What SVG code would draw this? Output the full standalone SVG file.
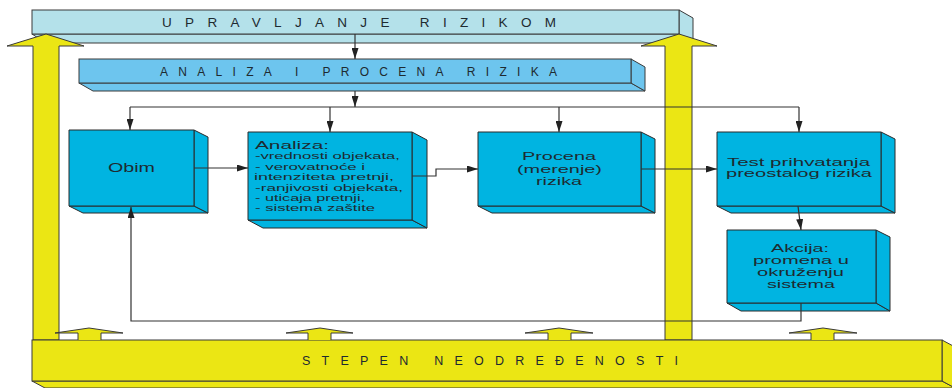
<svg xmlns="http://www.w3.org/2000/svg" width="952" height="388" viewBox="0 0 952 388">
<defs>
<marker id="ah" viewBox="0 0 11 7" refX="11" refY="3.5" markerWidth="11" markerHeight="7" markerUnits="userSpaceOnUse" orient="auto"><path d="M0,0 L11,3.5 L0,7 Z" fill="#222"/></marker>
</defs>
<style>
.box{fill:#00b4e1;stroke:#2b2b2b;stroke-width:1;stroke-linejoin:round}
.b1{fill:#b4e1ea;stroke:#3a3a3a;stroke-width:1}
.b2{fill:#6dc5ee;stroke:#3a3a3a;stroke-width:1}
.y{fill:#ebe614;stroke:#3a3a3a;stroke-width:1}
.c{fill:none;stroke:#333;stroke-width:1.2}
.t{font-family:"Liberation Sans",Arial,sans-serif;fill:#1e2a30}
</style>
<rect width="952" height="388" fill="#fff"/>

<g id="upravljanje">
<polygon class="b1" points="32,34 679,34 693,43 46,43"/>
<polygon class="b1" points="679,10 693,18 693,43 679,34"/>
<rect class="b1" x="32" y="10" width="647" height="24"/>
<text class="t" x="162" y="26.5" font-size="13.5" textLength="394" lengthAdjust="spacing">UPRAVLJANJE RIZIKOM</text>
</g>

<g id="analiza-procena">
<polygon class="b2" points="79,83 631,83 645,91 93,91"/>
<polygon class="b2" points="631,59 645,67 645,91 631,83"/>
<rect class="b2" x="79" y="59" width="552" height="24"/>
<text class="t" x="160" y="75.5" font-size="12" textLength="397" lengthAdjust="spacing">ANALIZA I PROCENA RIZIKA</text>
</g>

<g id="big-arrows">
<path class="y" d="M33,340 V46 H7 L46,34 L84,46 H59 V340 Z"/>
<path class="y" d="M665,340 V46 H641 L679,34 L717,46 H692 V340 Z"/>
</g>

<g id="stepen">
<polygon class="y" points="32,381 942,381 955,388 45,388"/>
<polygon class="y" points="942,340 955,347 955,388 942,381"/>
<rect class="y" x="32" y="340" width="910" height="41"/>
<text class="t" x="302" y="364.5" font-size="12.5" textLength="376" lengthAdjust="spacing">STEPEN NEODREĐENOSTI</text>
</g>

<g id="small-arrows">
<path class="y" d="M78,340 V333 H55 L89,328 L123,333 H101 V340"/>
<path class="y" d="M308,340 V333 H286 L320,328 L353,333 H331 V340"/>
<path class="y" d="M548,340 V333 H525 L559,328 L593,333 H571 V340"/>
<path class="y" d="M811,340 V333 H789 L823,328 L857,333 H834 V340"/>
</g>

<g id="obim">
<polygon class="box" points="69,206 194,206 208,213 83,213"/>
<polygon class="box" points="194,130 208,137 208,213 194,206"/>
<rect class="box" x="69" y="130" width="125" height="76"/>
<text class="t" x="108" y="172" font-size="12.5" textLength="47" lengthAdjust="spacingAndGlyphs">Obim</text>
</g>

<g id="analiza">
<polygon class="box" points="248,220 412,220 427,228 263,228"/>
<polygon class="box" points="412,132 427,140 427,228 412,220"/>
<rect class="box" x="248" y="132" width="164" height="88"/>
<text class="t" x="255" y="148.5" font-size="11.5" textLength="74" lengthAdjust="spacingAndGlyphs">Analiza:</text>
<text class="t" x="255" y="159" font-size="9.5" textLength="145" lengthAdjust="spacingAndGlyphs">-vrednosti objekata,</text>
<text class="t" x="255" y="169.5" font-size="9.5" textLength="110" lengthAdjust="spacingAndGlyphs">- verovatnoće i</text>
<text class="t" x="254" y="180" font-size="9.5" textLength="140" lengthAdjust="spacingAndGlyphs">intenziteta pretnji,</text>
<text class="t" x="255" y="190.5" font-size="9.5" textLength="148" lengthAdjust="spacingAndGlyphs">-ranjivosti objekata,</text>
<text class="t" x="255" y="200.5" font-size="9.5" textLength="110" lengthAdjust="spacingAndGlyphs">- uticaja pretnji,</text>
<text class="t" x="255" y="210.5" font-size="9.5" textLength="120" lengthAdjust="spacingAndGlyphs">- sistema zaštite</text>
</g>

<g id="procena">
<polygon class="box" points="478,206 641,206 655,213 492,213"/>
<polygon class="box" points="641,132 655,139 655,213 641,206"/>
<rect class="box" x="478" y="132" width="163" height="74"/>
<text class="t" x="522" y="160" font-size="11.5" textLength="74" lengthAdjust="spacingAndGlyphs">Procena</text>
<text class="t" x="517" y="172.5" font-size="11.5" textLength="85" lengthAdjust="spacingAndGlyphs">(merenje)</text>
<text class="t" x="536" y="185" font-size="11.5" textLength="46" lengthAdjust="spacingAndGlyphs">rizika</text>
</g>

<g id="test">
<polygon class="box" points="717,206 881,206 895,213 731,213"/>
<polygon class="box" points="881,132 895,139 895,213 881,206"/>
<rect class="box" x="717" y="132" width="164" height="74"/>
<text class="t" x="727" y="165.5" font-size="11" textLength="143" lengthAdjust="spacingAndGlyphs">Test prihvatanja</text>
<text class="t" x="726" y="177" font-size="11" textLength="146" lengthAdjust="spacingAndGlyphs">preostalog rizika</text>
</g>

<g id="akcija">
<polygon class="box" points="727,303 876,303 890,311 741,311"/>
<polygon class="box" points="876,230 890,237 890,311 876,303"/>
<rect class="box" x="727" y="230" width="149" height="73"/>
<text class="t" x="771" y="252" font-size="11.5" textLength="58" lengthAdjust="spacingAndGlyphs">Akcija:</text>
<text class="t" x="753" y="264" font-size="11.5" textLength="96" lengthAdjust="spacingAndGlyphs">promena u</text>
<text class="t" x="757" y="276" font-size="11.5" textLength="87" lengthAdjust="spacingAndGlyphs">okruženju</text>
<text class="t" x="767" y="288" font-size="11.5" textLength="68" lengthAdjust="spacingAndGlyphs">sistema</text>
</g>

<g id="connectors">
<path class="c" d="M355,34 V59" marker-end="url(#ah)"/>
<path class="c" d="M355,91 V107" marker-end="url(#ah)"/>
<path class="c" d="M130,107 H799"/>
<path class="c" d="M130,107 V130" marker-end="url(#ah)"/>
<path class="c" d="M330,107 V132" marker-end="url(#ah)"/>
<path class="c" d="M559,107 V132" marker-end="url(#ah)"/>
<path class="c" d="M799,107 V132" marker-end="url(#ah)"/>
<path class="c" d="M194,168 H248" marker-end="url(#ah)"/>
<path class="c" d="M412,176 H436 V169 H478" marker-end="url(#ah)"/>
<path class="c" d="M641,169 H717" marker-end="url(#ah)"/>
<path class="c" d="M798,206 L801,230" marker-end="url(#ah)"/>
<path class="c" d="M801,303 V321 H131 V207" marker-end="url(#ah)"/>
</g>
</svg>
